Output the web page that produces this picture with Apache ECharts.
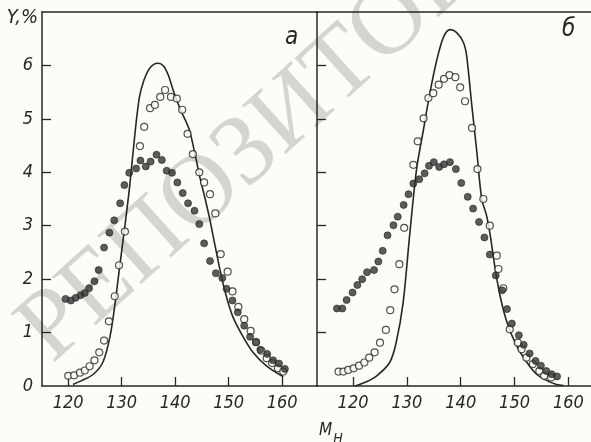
<!DOCTYPE html>
<html>
<head>
<meta charset="utf-8">
<script src="https://cdn.jsdelivr.net/npm/echarts@6/dist/echarts.min.js"></script>
<style>
html,body{margin:0;padding:0;background:#fcfcf8;}
#c{width:591px;height:442px;}
</style>
</head>
<body>
<div id="c"></div>
<script>
// ---------- data ----------
const xTicks = [120, 130, 140, 150, 160];
const yTicks = [0, 1, 2, 3, 4, 5, 6];

// panel а
const aOpen = [[120.0,0.19],[121.1,0.20],[122.2,0.25],[123.1,0.29],[124.0,0.37],[124.9,0.48],[125.8,0.63],[126.7,0.85],[127.6,1.21],[128.7,1.68],[129.5,2.26],[130.6,2.89],
  [133.4,4.49],[134.2,4.85],[135.3,5.20],[136.2,5.26],[137.2,5.41],[138.1,5.54],[139.2,5.41],[140.3,5.38],[141.3,5.17],[142.3,4.72],[143.3,4.34],[144.5,4.00],[145.4,3.81],[146.5,3.59],[147.5,3.23],
  [148.5,2.47],[149.8,2.14],[150.7,1.77],[151.8,1.48],[152.9,1.25],[154.1,1.03],[155.1,0.82],[156.1,0.66],[157.1,0.52],[158.1,0.43],[159.2,0.33],[160.2,0.27]];
const aFilled = [[119.5,1.63],[120.5,1.60],[121.4,1.65],[122.3,1.70],[123.1,1.74],[123.9,1.83],[124.9,1.96],[125.7,2.17],[126.7,2.59],[127.7,2.87],[128.6,3.10],[129.7,3.42],
  [130.5,3.76],[131.4,3.99],[132.7,4.07],[133.5,4.22],[134.5,4.11],[135.4,4.20],[136.5,4.33],[137.5,4.23],[138.4,4.03],[139.4,3.99],[140.4,3.81],[141.4,3.61],[142.4,3.42],
  [143.6,3.28],[144.5,3.03],[145.4,2.67],[146.5,2.34],[147.6,2.11],[148.8,2.02],[149.6,1.82],[150.7,1.60],[151.7,1.38],[152.9,1.13],[154.0,0.92],[155.1,0.82],[155.9,0.68],
  [157.2,0.60],[158.3,0.48],[159.4,0.42],[160.5,0.32]];
const aCurve = [[120.9,0.03],[122.5,0.10],[124.7,0.22],[126.5,0.45],[127.8,0.92],[128.7,1.50],[129.7,2.30],[130.6,3.00],[131.5,3.75],[132.5,4.75],[133.3,5.40],[134.1,5.71],
  [135.1,5.93],[136.0,6.02],[136.8,6.04],[137.8,5.99],[138.7,5.82],[139.6,5.54],[140.9,5.19],[142.1,4.93],[142.7,4.78],[143.7,4.34],[144.6,3.91],[145.6,3.50],[146.4,3.15],
  [147.1,2.80],[148.4,2.16],[149.6,1.66],[150.8,1.29],[152.7,0.92],[154.6,0.62],[157.1,0.37],[160.2,0.17]];

// panel б
const bOpen = [[117.3,0.27],[118.2,0.27],[119.1,0.30],[120.1,0.33],[121.1,0.38],[122.1,0.44],[123.0,0.53],[124.0,0.63],[125.0,0.81],[126.1,1.05],[126.9,1.42],[127.7,1.81],
  [128.6,2.28],[129.5,2.96],[131.2,4.14],[132.0,4.58],[133.1,5.01],[134.0,5.39],[134.9,5.48],[135.9,5.64],[136.9,5.75],[137.9,5.82],[139.0,5.78],[139.9,5.59],[140.8,5.33],
  [142.1,4.83],[143.1,4.06],[144.2,3.50],[145.4,3.00],[146.7,2.44],[147.0,2.19],[147.9,1.83],[149.1,1.06],[150.6,0.81],[151.3,0.69],[152.2,0.53],[153.4,0.41],[154.6,0.28],
  [155.5,0.19],[156.8,0.16]];
const bFilled = [[117.0,1.45],[118.0,1.45],[118.8,1.61],[119.9,1.75],[120.8,1.89],[121.7,2.00],[122.6,2.13],[123.9,2.17],[124.7,2.33],[125.5,2.53],[126.4,2.82],[127.5,3.01],
  [128.3,3.17],[129.4,3.39],[130.3,3.59],[131.2,3.79],[132.3,3.87],[133.3,3.98],[134.1,4.12],[135.0,4.19],[136.0,4.10],[136.9,4.15],[138.0,4.19],[139.1,4.06],[140.1,3.80],
  [141.3,3.54],[142.3,3.32],[143.4,3.07],[144.4,2.78],[145.4,2.46],[146.5,2.07],[147.7,1.79],[148.6,1.44],[149.5,1.17],[150.8,0.95],[151.7,0.77],[152.8,0.61],[153.9,0.47],
  [154.9,0.38],[155.9,0.28],[156.9,0.22],[157.9,0.18]];
const bCurve = [[120.4,0.00],[122.5,0.08],[124.4,0.19],[126.8,0.44],[128.0,0.81],[129.3,1.56],[130.5,2.81],[131.8,4.06],[133.1,4.81],[134.3,5.50],[135.6,6.12],[136.8,6.53],
  [138.0,6.67],[139.2,6.62],[140.5,6.43],[141.1,6.18],[142.0,5.31],[143.0,4.37],[143.9,3.50],[144.8,3.19],[145.5,2.81],[146.4,2.19],[147.3,1.69],[148.6,1.19],[150.4,0.75],
  [152.3,0.44],[154.1,0.22],[156.0,0.10],[157.8,0.03],[159.1,0.01]];

// ---------- chart ----------
const ink = '#262626';
const font = "'Liberation Sans Narrow', 'DejaVu Sans Condensed', 'Liberation Sans', sans-serif";
const lineStyle = {color: ink, width: 1.5};

function xAx(grid, min, max, pos, labels) {
  return {
    type: 'value', gridIndex: grid, min: min, max: max, position: pos,
    axisLine: {show: true, onZero: false, lineStyle: lineStyle},
    axisTick: labels ? {show: true, inside: true, length: 9, lineStyle: {color: ink, width: 1.3}, customValues: xTicks} : {show: false},
    axisLabel: labels ? {show: true, margin: 8, color: ink, fontSize: 18, fontStyle: 'italic', fontFamily: font, customValues: xTicks} : {show: false},
    splitLine: {show: false}
  };
}
function yAx(grid, labels) {
  return {
    type: 'value', gridIndex: grid, min: 0, max: 7,
    axisLine: {show: true, onZero: false, lineStyle: lineStyle},
    axisTick: {show: true, inside: true, length: 9, lineStyle: {color: ink, width: 1.3}, customValues: [1,2,3,4,5,6]},
    axisLabel: labels ? {show: true, margin: 9, color: ink, fontSize: 18, fontStyle: 'italic', fontFamily: font, customValues: yTicks} : {show: false},
    splitLine: {show: false},
    name: labels ? 'Y,%' : '',
    nameLocation: 'end', nameGap: 0,
    nameTextStyle: {align: 'right', verticalAlign: 'top', color: ink, fontSize: 20, fontStyle: 'italic', fontFamily: font, padding: [-4, 4, 0, 0]}
  };
}
const openSym = {color: '#fcfcf8', borderColor: ink, borderWidth: 1.2};
const fillSym = {color: '#333333', borderColor: '#222222', borderWidth: 0.8};

const chart = echarts.init(document.getElementById('c'), null, {renderer: 'canvas'});
chart.setOption({
  animation: false,
  backgroundColor: '#fcfcf8',
  grid: [
    {left: 42, top: 12, width: 275, height: 374},
    {left: 317, top: 12, width: 274, height: 374}
  ],
  xAxis: [
    xAx(0, 115.1, 166.5, 'bottom', true),
    xAx(0, 115.1, 166.5, 'top', false),
    xAx(1, 113.3, 164.2, 'bottom', true),
    xAx(1, 113.3, 164.2, 'top', false)
  ],
  yAxis: [yAx(0, true), yAx(1, false)],
  title: [
    {text: 'а', left: 280, top: 21, textStyle: {fontSize: 24, fontStyle: 'italic', fontWeight: 'normal', color: ink, fontFamily: font}},
    {text: 'б', left: 557, top: 13, textStyle: {fontSize: 24, fontStyle: 'italic', fontWeight: 'normal', color: ink, fontFamily: font}},
    {text: '{m|M}{s|H}', left: 314, top: 417, textStyle: {fontWeight: 'normal', rich: {
      m: {fontSize: 17, fontStyle: 'italic', fontWeight: 'normal', color: ink, fontFamily: font, lineHeight: 24, verticalAlign: 'top'},
      s: {fontSize: 14, fontStyle: 'italic', fontWeight: 'normal', color: ink, fontFamily: font, lineHeight: 24, verticalAlign: 'bottom', padding: [0, 0, 0, 1]}
    }}}
  ],
  graphic: [{
    type: 'text', x: 68, y: 382, rotation: 42 * Math.PI / 180, z: 0, silent: true,
    style: {text: 'РЕПОЗИТОРИЙ', fill: 'rgba(120,120,120,0.30)', font: "100px 'Liberation Serif', 'DejaVu Serif', serif", textAlign: 'left', textVerticalAlign: 'bottom'}
  }],
  series: [
    {type: 'line', xAxisIndex: 0, yAxisIndex: 0, data: aCurve, smooth: 0.3, showSymbol: false, lineStyle: {color: ink, width: 1.6}, z: 3},
    {type: 'scatter', xAxisIndex: 0, yAxisIndex: 0, data: aOpen, symbol: 'circle', symbolSize: 7, itemStyle: openSym, z: 4},
    {type: 'scatter', xAxisIndex: 0, yAxisIndex: 0, data: aFilled, symbol: 'circle', symbolSize: 7, itemStyle: fillSym, z: 5},
    {type: 'line', xAxisIndex: 2, yAxisIndex: 1, data: bCurve, smooth: 0.3, showSymbol: false, lineStyle: {color: ink, width: 1.6}, z: 3},
    {type: 'scatter', xAxisIndex: 2, yAxisIndex: 1, data: bOpen, symbol: 'circle', symbolSize: 7, itemStyle: openSym, z: 4},
    {type: 'scatter', xAxisIndex: 2, yAxisIndex: 1, data: bFilled, symbol: 'circle', symbolSize: 7, itemStyle: fillSym, z: 5}
  ]
});
</script>
</body>
</html>
